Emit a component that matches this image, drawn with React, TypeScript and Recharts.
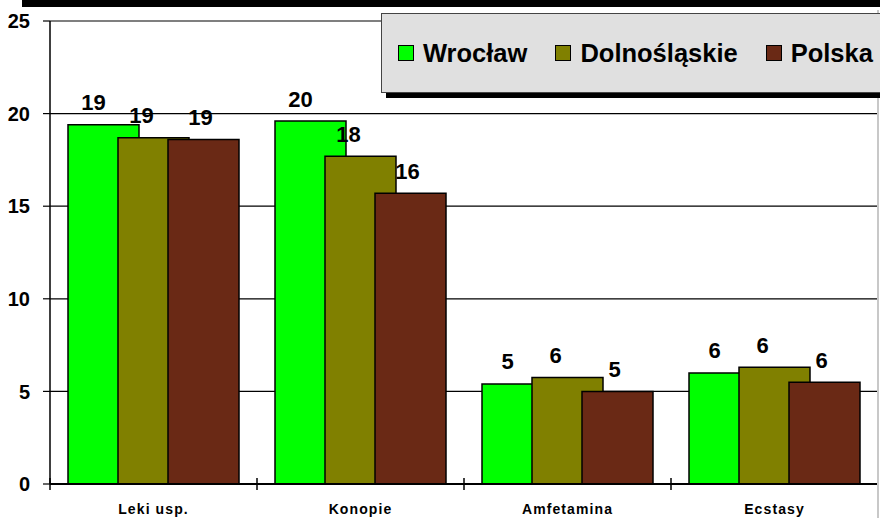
import { Bar, BarChart, CartesianGrid, LabelList, XAxis, YAxis } from "recharts";

const categories = ["Leki usp.", "Konopie", "Amfetamina", "Ecstasy"];
const wroclaw = [19.4, 19.6, 5.4, 6.0];
const dolnoslaskie = [18.7, 17.7, 5.75, 6.3];
const polska = [18.6, 15.7, 5.0, 5.5];
const yTicks = [0, 5, 10, 15, 20, 25];

const series = [
  { key: "wroclaw", name: "Wrocław", color: "#00ff00", labelDx: -10 },
  { key: "dolnoslaskie", name: "Dolnośląskie", color: "#808000", labelDx: -12 },
  { key: "polska", name: "Polska", color: "#6a2915", labelDx: -3 },
];

const data = categories.map((name, i) => ({
  name,
  wroclaw: wroclaw[i],
  dolnoslaskie: dolnoslaskie[i],
  polska: polska[i],
}));

const FONT = "'Liberation Sans', Arial, sans-serif";

// etykieta nad słupkiem, przesunięta trochę w lewo jak w Excelu
const valueLabel = (dx: number) => (props: any) => {
  const { x, y, width, value } = props;
  return (
    <text
      x={x + width / 2 + dx}
      y={y - 22}
      textAnchor="middle"
      dominantBaseline="central"
      fontFamily={FONT}
      fontWeight="bold"
      fontSize={22}
      fill="#000"
    >
      {Math.round(value)}
    </text>
  );
};

// podpis kategorii + kreska na granicy kategorii
const CategoryTick = (props: any) => {
  const { x, y, payload, index, visibleTicksCount } = props;
  const half = payload?.offset ?? 103.5;
  const isLast = index === (visibleTicksCount ?? categories.length) - 1;
  return (
    <g>
      <line x1={x - half} x2={x - half} y1={y - 6} y2={y + 6} stroke="#000" strokeWidth={1.5} />
      {isLast && <line x1={x + half} x2={x + half} y1={y - 6} y2={y + 6} stroke="#000" strokeWidth={1.5} />}
      <text
        x={x}
        y={y + 25}
        textAnchor="middle"
        dominantBaseline="central"
        fontFamily={FONT}
        fontWeight="bold"
        fontSize={14}
        letterSpacing={1.1}
        fill="#000"
      >
        {payload.value}
      </text>
    </g>
  );
};

export default function App() {
  return (
    <div
      style={{
        position: "absolute",
        left: 0,
        top: 0,
        width: 880,
        height: 518,
        background: "#fff",
        overflow: "hidden",
      }}
    >
      <BarChart
        width={880}
        height={518}
        data={data}
        margin={{ top: 21, right: 2, left: 0, bottom: 0 }}
        barSize={71}
        barGap={-21}
      >
        <CartesianGrid vertical={false} stroke="#000" strokeWidth={1.2} strokeOpacity={1} />
        <XAxis
          dataKey="name"
          height={34}
          tickSize={0}
          tickMargin={0}
          tickLine={false}
          axisLine={{ stroke: "#000", strokeWidth: 2 }}
          tick={<CategoryTick />}
          interval={0}
        />
        <YAxis
          width={50}
          domain={[0, 25]}
          ticks={yTicks}
          tickSize={7}
          tickMargin={13}
          axisLine={{ stroke: "#000", strokeWidth: 1.5 }}
          tickLine={{ stroke: "#000", strokeWidth: 1.2 }}
          tick={{ fill: "#000", fontFamily: FONT, fontWeight: "bold", fontSize: 20 }}
        />
        {series.map((s) => (
          <Bar
            key={s.key}
            dataKey={s.key}
            name={s.name}
            fill={s.color}
            stroke="#000"
            strokeWidth={1.5}
            isAnimationActive={false}
          >
            <LabelList dataKey={s.key} content={valueLabel(s.labelDx)} />
          </Bar>
        ))}
      </BarChart>

      {/* gruby czarny pasek u góry */}
      <div style={{ position: "absolute", left: 22, top: 0, width: 858, height: 7, background: "#000" }} />
      {/* szara krawędź po prawej */}
      <div style={{ position: "absolute", left: 877, top: 10, width: 2, height: 508, background: "#c8c8c8" }} />

      {/* legenda */}
      <div
        style={{
          position: "absolute",
          left: 381,
          top: 13,
          width: 520,
          height: 78,
          background: "#e0e0e0",
          border: "1px solid #444",
          boxShadow: "5px 5px 0 #000",
          display: "flex",
          alignItems: "center",
          paddingLeft: 16,
          fontFamily: FONT,
          fontWeight: "bold",
          fontSize: 25.5,
          color: "#000",
        }}
      >
        {series.map((s) => (
          <div key={s.key} style={{ display: "flex", alignItems: "center", marginRight: 28 }}>
            <span
              style={{
                display: "inline-block",
                width: 14,
                height: 14,
                background: s.color,
                border: "1.5px solid #000",
                marginRight: 9,
              }}
            />
            <span>{s.name}</span>
          </div>
        ))}
      </div>
    </div>
  );
}
